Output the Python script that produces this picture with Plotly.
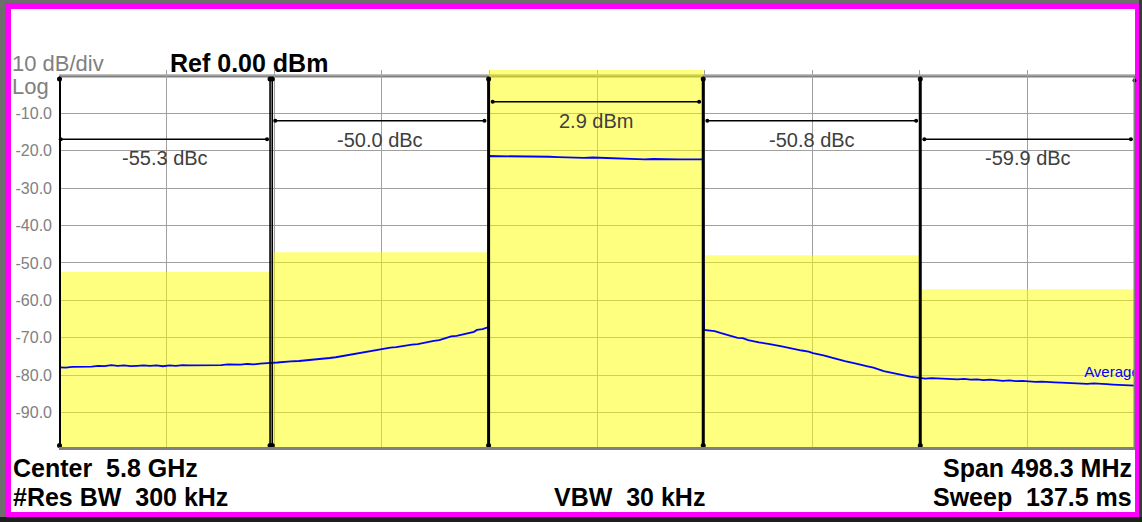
import plotly.graph_objects as go

# ---------------- data ----------------
band_edges_mhz = [-249.15, -150.9, -50.2, 49.2, 149.7, 249.15]
band_power_dbm = [-52.4, -47.1, 2.9, -47.9, -57.0]
band_labels = ["-55.3 dBc", "-50.0 dBc", "2.9 dBm", "-50.8 dBc", "-59.9 dBc"]
meas_line_db = [-16.9, -12.0, -6.9, -12.0, -16.9]

trace_freq_mhz = [
    # band 1
    -249.0, -246.0, -243.0, -240.0, -237.0, -234.0, -231.0, -228.0, -225.0, -222.0,
    -219.0, -216.0, -213.0, -210.0, -207.0, -204.0, -201.0, -198.0, -195.0, -192.0,
    -189.0, -186.0, -183.0, -180.0, -177.0, -174.0, -171.0, -168.0, -165.0, -162.0,
    -159.0, -156.0, -153.0, -151.0,
    # band 2
    -148.0, -145.0, -141.9, -138.0, -133.9, -131.0, -128.0, -123.8, -121.0, -118.0,
    -113.8, -111.0, -108.0, -103.7, -101.0, -99.0, -95.7, -93.0, -90.0, -85.7, -83.0,
    -80.0, -75.6, -73.0, -71.0, -67.6, -65.0, -63.0, -59.5, -57.0, -55.6, -53.0, -51.0,
    # band 3
    -50.4, -50.0, -46.0, -42.0, -38.0, -34.0, -30.0, -26.0, -22.0, -18.0, -14.0, -10.0,
    -6.0, -2.0, 2.0, 6.0, 10.0, 14.0, 18.0, 22.0, 26.0, 30.0, 34.0, 38.0, 42.0, 46.0, 49.0,
    # band 4
    49.6, 52.0, 54.5, 57.1, 61.0, 65.1, 67.5, 70.0, 75.0, 78.0, 80.0, 85.0, 88.0, 90.0,
    94.9, 98.0, 100.0, 104.9, 108.0, 110.0, 114.8, 118.0, 120.0, 124.8, 128.0, 132.8,
    135.0, 137.0, 140.7, 143.0, 145.0, 147.0, 149.7,
    # band 5
    152.0, 155.0, 158.0, 161.0, 164.0, 167.0, 170.0, 173.0, 176.0, 179.0, 182.0, 185.0,
    188.0, 191.0, 194.0, 197.0, 200.0, 203.0, 206.0, 209.0, 212.0, 215.0, 218.0, 221.0,
    224.0, 227.0, 230.0, 233.0, 236.0, 239.0, 242.0, 245.0, 249.15,
]
trace_level_dbm = [
    # band 1
    -77.9, -78.0, -77.8, -77.8, -77.6, -77.7, -77.5, -77.6, -77.3, -77.5,
    -77.4, -77.6, -77.5, -77.4, -77.5, -77.4, -77.6, -77.4, -77.5, -77.3,
    -77.4, -77.4, -77.2, -77.4, -77.3, -77.3, -77.1, -77.2, -77.2, -77.0,
    -77.1, -76.9, -76.9, -76.7,
    # band 2
    -76.6, -76.4, -76.3, -76.2, -76.0, -75.9, -75.7, -75.4, -75.2, -74.9,
    -74.3, -74.2, -73.8, -73.3, -73.2, -73.0, -72.6, -72.5, -72.2, -71.8, -71.7,
    -71.3, -70.8, -70.6, -70.2, -69.6, -69.5, -69.2, -68.7, -68.4, -67.9, -67.7, -67.3,
    # band 3
    -67.2, -21.4, -21.4, -21.45, -21.4, -21.5, -21.6, -21.5, -21.6, -21.7, -21.8, -21.7,
    -21.9, -21.8, -21.9, -22.0, -22.2, -22.3, -22.2, -22.3, -22.2, -22.3, -22.2, -22.3,
    -22.3, -22.2, -22.3,
    # band 4
    -67.9, -68.1, -68.2, -68.7, -69.4, -70.0, -70.1, -70.6, -71.2, -71.4, -71.7, -72.2,
    -72.6, -72.9, -73.4, -73.7, -74.1, -74.7, -75.1, -75.5, -76.25, -76.6, -76.9, -77.6,
    -78.0, -78.9, -79.2, -79.5, -80.0, -80.2, -80.4, -80.5, -80.7,
    # band 5
    -80.9, -80.8, -80.9, -81.0, -80.9, -81.1, -81.0, -81.2, -81.1, -81.3, -81.2, -81.4,
    -81.5, -81.4, -81.6, -81.5, -81.7, -81.8, -81.7, -81.9, -81.9, -82.0, -82.1, -82.0,
    -82.2, -82.3, -82.2, -82.4, -82.4, -82.5, -82.6, -82.5, -82.8,
]

y_tick_vals = [0, -10, -20, -30, -40, -50, -60, -70, -80, -90, -100]
y_tick_text = ["", "-10.0", "-20.0", "-30.0", "-40.0", "-50.0", "-60.0", "-70.0", "-80.0", "-90.0", ""]

span_label = "Span 498.3 MHz"
center_label = "Center\u00a0 5.8 GHz"
rbw_label = "#Res BW\u00a0 300 kHz"
vbw_label = "VBW\u00a0 30 kHz"
sweep_label = "Sweep\u00a0 137.5 ms"

# ---------------- layout geometry ----------------
W, H = 1142, 522
L, R, T, B = 59, 7, 70, 72
PW, PH = W - L - R, H - T - B
FONT = "Arial, Liberation Sans, sans-serif"


def xp(px):
    return (px - L) / PW


def yp(py):
    return (H - B - py) / PH


x_min, x_max = band_edges_mhz[0], band_edges_mhz[-1]
band_centers = [(a + b) / 2 for a, b in zip(band_edges_mhz[:-1], band_edges_mhz[1:])]
band_widths = [b - a for a, b in zip(band_edges_mhz[:-1], band_edges_mhz[1:])]
mhz_per_px = (x_max - x_min) / PW

fig = go.Figure()

# yellow channel power bars
fig.add_trace(go.Bar(
    x=band_centers, width=band_widths, base=-100,
    y=[p + 100 for p in band_power_dbm],
    marker=dict(color="rgba(255,255,0,0.5)", line=dict(width=0)),
    hoverinfo="skip", showlegend=False,
))

# spectrum trace
fig.add_trace(go.Scatter(
    x=trace_freq_mhz, y=trace_level_dbm, mode="lines",
    line=dict(color="#0000ff", width=1.8), hoverinfo="skip", showlegend=False,
))

# band boundary markers
marker_x = [x_min + 0.5 * mhz_per_px]
for i, e in enumerate(band_edges_mhz[1:-1]):
    if i == 0:
        marker_x += [e - 1.1 * mhz_per_px, e + 1.1 * mhz_per_px]
    else:
        marker_x.append(e)
for i, mx in enumerate(marker_x):
    w = 1.6 if i in (1, 2) else 3
    fig.add_trace(go.Scatter(
        x=[mx, mx], y=[-0.8, -98.8], mode="lines+markers",
        line=dict(color="black", width=w), marker=dict(color="black", size=5),
        cliponaxis=False, hoverinfo="skip", showlegend=False,
    ))
# right edge dot
fig.add_trace(go.Scatter(
    x=[x_max - 0.5 * mhz_per_px], y=[-1.2], mode="markers",
    marker=dict(color="black", size=4), cliponaxis=False,
    hoverinfo="skip", showlegend=False,
))

# measurement span lines
inset = 1.9
for i in range(5):
    a = band_edges_mhz[i] + (0.8 if i == 0 else inset)
    b = band_edges_mhz[i + 1] - inset
    fig.add_trace(go.Scatter(
        x=[a, b], y=[meas_line_db[i]] * 2, mode="lines+markers",
        line=dict(color="black", width=1.5), marker=dict(color="black", size=4),
        cliponaxis=False, hoverinfo="skip", showlegend=False,
    ))

# "Average" label (clipped at the right edge)
fig.add_trace(go.Scatter(
    x=[225.6], y=[-79.5], mode="text", text=["Average"],
    textposition="middle right", textfont=dict(family=FONT, size=15, color="#0000ff"),
    cliponaxis=True, hoverinfo="skip", showlegend=False,
))

annotations = []
for c, lvl, lab in zip(band_centers, meas_line_db, band_labels):
    annotations.append(dict(
        x=c, y=lvl, xref="x", yref="y", text=lab, showarrow=False,
        yshift=-19, xanchor="center", yanchor="middle",
        font=dict(family=FONT, size=20, color="#404040"),
    ))


def txt(px, py, text, size, color, anchor="left", bold=False):
    annotations.append(dict(
        x=xp(px), y=yp(py), xref="paper", yref="paper",
        text=f"<b>{text}</b>" if bold else text, showarrow=False,
        xanchor=anchor, yanchor="middle",
        font=dict(family=FONT, size=size, color=color),
    ))


txt(10, 63, "10 dB/div", 22, "#808080")
txt(168, 63, "Ref 0.00 dBm", 25, "black", bold=True)
txt(10, 86.5, "Log", 22, "#808080")
txt(11, 468, center_label, 25, "black", bold=True)
txt(11, 496.5, rbw_label, 25, "black", bold=True)
txt(629, 496.5, vbw_label, 25, "black", anchor="center", bold=True)
txt(1134, 468, span_label, 25, "black", anchor="right", bold=True)
txt(1134, 496.5, sweep_label, 25, "black", anchor="right", bold=True)


def rect(x0, y0, x1, y1, color, layer="below"):
    return dict(type="rect", xref="paper", yref="paper",
                x0=xp(x0), x1=xp(x1), y0=yp(y1), y1=yp(y0),
                fillcolor=color, line=dict(width=0), layer=layer)


shapes = [
    rect(11, 9, 1135, 512, "white"),
    rect(0, 0, 5, 522, "#6e6e6e"),
    rect(0, 0, 1142, 3, "#6e6e6e"),
    rect(1139, 0, 1142, 522, "#3a3a3a"),
    rect(0, 517, 1142, 522, "#1e1e1e"),
    # top frame line of graticule
    dict(type="line", xref="x", yref="y", x0=x_min, x1=x_max, y0=0, y1=0,
         line=dict(color="#808080", width=3), layer="below"),
    # bottom frame line
    dict(type="line", xref="x", yref="y", x0=x_min, x1=x_max, y0=-99.6, y1=-99.6,
         line=dict(color="#808080", width=3), layer="above"),
    # right frame line
    dict(type="line", xref="x", yref="y", x0=x_max - 0.5 * mhz_per_px, x1=x_max - 0.5 * mhz_per_px,
         y0=-100, y1=0, line=dict(color="#808080", width=2), layer="above"),
]

fig.update_layout(
    width=W, height=H,
    margin=dict(l=L, r=R, t=T, b=B, pad=0),
    paper_bgcolor="#ff00ff", plot_bgcolor="white",
    showlegend=False,
    font=dict(family=FONT),
    xaxis=dict(range=[x_min, x_max], tick0=x_min, dtick=(x_max - x_min) / 10,
               showgrid=True, gridcolor="#a0a0a0", gridwidth=1,
               showticklabels=False, ticks="", zeroline=False, showline=False),
    yaxis=dict(range=[-100, 1.6], tickmode="array", tickvals=y_tick_vals, ticktext=y_tick_text,
               showgrid=True, gridcolor="#a0a0a0", gridwidth=1, ticks="",
               tickfont=dict(family=FONT, size=16, color="#808080"),
               ticklabelstandoff=6, zeroline=False, showline=False),
    annotations=annotations,
    shapes=shapes,
)

fig.write_html(
    "out.html",
    config={"displayModeBar": False},
    post_script="document.body.style.margin='0';document.body.style.overflow='hidden';",
)
